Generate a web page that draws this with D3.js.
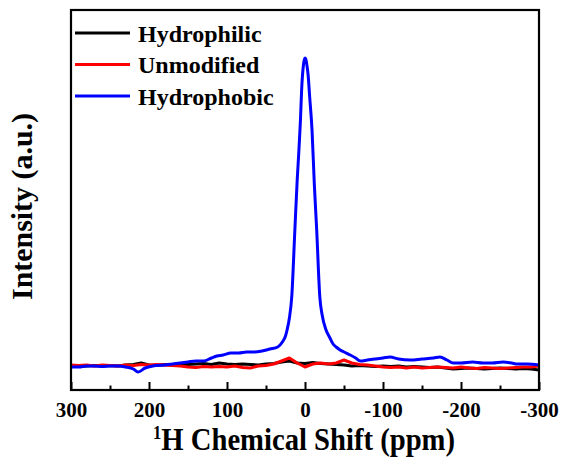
<!DOCTYPE html>
<html>
<head>
<meta charset="utf-8">
<script src="https://cdn.jsdelivr.net/npm/d3@7.9.0/dist/d3.min.js"></script>
<style>
  body { margin: 0; background: #fff; }
  svg text { font-family: "Liberation Serif", "Times New Roman", serif; font-weight: bold; fill: #000; }
</style>
</head>
<body>
<svg id="chart" width="561" height="461"></svg>
<script>
// shared ppm grid for the two flat baselines (300 -> -300, every 10 ppm)
const basePpm = d3.range(300, -301, -10);

const hydrophilic = [
  -1, -1.5, -1, -0.5, -1, -0.5, -1, 0, 0.5, 2,
  0, -0.5, 0.5, 0, 1, 0.5, 1, 1.5, 0.5, 2,
  1, 0.5, 1, 0.5, 0, 1, 1.5, 3, 4, 2,
  1.5, 2.5, 1.5, 1, 0.5, 0, -1, -0.5, -1, -1.5,
  -1, -1.5, -1, -2, -1.5, -2, -2.5, -2, -3, -4,
  -3.5, -3, -3.5, -4, -3.5, -3, -3.5, -4, -3.5, -4, -5
];

const unmodified = [
  0, -0.5, 0, -1, 0, -0.5, -1, 0, -0.5, 0.5,
  0, 0.5, 0, -0.5, -1, -2, -2.5, -1.5, -2, -1.5,
  -2, -1, -2.5, -3, -1, -0.5, 1, 4, 7, 2,
  -2, 1, 2, 1, 2, 5, 2, 0.5, 0, -1,
  -2, -2.5, -2, -3, -2, -3, -2.5, -2, -2.5, -3,
  -2, -3, -3.5, -2.5, -3, -3.5, -3, -2.5, -2, -2, -1
];

// hydrophobic sample needs a finer grid near the peak
const phobicPpm = [
  300, 290, 280, 270, 260, 250, 240, 230, 220, 214,
  205, 195, 180, 170, 160, 150, 140, 130, 120, 113,
  105, 95, 85, 75, 65, 55, 45, 35, 29, 25,
  23, 20, 17, 13, 10, 8, 6, 4, 2, 1, 0, -1,
  -2, -4, -6, -9, -12, -15, -19, -22, -27, -32,
  -36, -40, -45, -50, -58, -65, -71, -80, -90, -100,
  -109, -120, -135, -150, -165, -173, -182, -190, -200, -215,
  -228, -240, -254, -265, -272, -285, -300
];
const hydrophobic = [
  -2, -2, -1, -1, -1.5, -1, -1, -2, -4, -7,
  -3, -1, 0, 1, 2, 3, 4, 4, 7, 9,
  10, 12, 12, 13, 13, 14, 16, 18, 23, 29,
  35, 47, 68, 135, 185, 212, 242, 280, 300, 305, 307, 306,
  302, 290, 268, 235, 180, 135, 68, 50, 35, 27,
  21, 18, 15, 13, 10, 7, 4, 5, 6, 7,
  8, 6, 5, 6, 7, 8, 5, 2, 2, 3,
  2, 2, 3, 2, 1, 1, 0
];

const series = [
  { name: 'Hydrophilic', color: '#000000', ppm: basePpm, values: hydrophilic, curve: d3.curveLinear },
  { name: 'Unmodified', color: '#ff0000', ppm: basePpm, values: unmodified, curve: d3.curveLinear },
  { name: 'Hydrophobic', color: '#0000ff', ppm: phobicPpm, values: hydrophobic, curve: d3.curveMonotoneX }
];

const majorTicks = [300, 200, 100, 0, -100, -200, -300];
const minorTicks = [250, 150, 50, -50, -150, -250];

const svg = d3.select('#chart');
const plotLeft = 71, plotRight = 539, plotTop = 10, plotBottom = 390;

const x = d3.scaleLinear().domain([300, -300]).range([plotLeft, plotRight]);
const y = d3.scaleLinear().domain([-25, 355]).range([plotBottom, plotTop]);

const plot = svg.append('g');
plot.append('defs').append('clipPath').attr('id', 'clip')
  .append('rect').attr('x', plotLeft).attr('y', plotTop)
  .attr('width', plotRight - plotLeft).attr('height', plotBottom - plotTop);

series.forEach((s) => {
  const line = d3.line()
    .x((d) => x(d[0]))
    .y((d) => y(d[1]))
    .curve(s.curve);
  plot.append('path')
    .attr('d', line(s.ppm.map((p, i) => [p, s.values[i]])))
    .attr('fill', 'none')
    .attr('stroke', s.color)
    .attr('stroke-width', 3)
    .attr('stroke-linejoin', 'round')
    .attr('clip-path', 'url(#clip)');
});

// bottom axis: ticks point inward, plain hyphen for negatives
const xAxis = d3.axisBottom(x).tickValues(majorTicks).tickSize(-8).tickPadding(12)
  .tickFormat((d) => String(d));
const gx = svg.append('g').attr('transform', `translate(0,${plotBottom})`).call(xAxis);
gx.select('.domain').remove();
gx.selectAll('.tick line').attr('stroke', '#000').attr('stroke-width', 2);
gx.selectAll('.tick text').style('font-size', '21px').attr('dy', '0.71em');

svg.append('g').attr('transform', `translate(0,${plotBottom})`)
  .call(d3.axisBottom(x).tickValues(minorTicks).tickSize(-4.5).tickFormat(''))
  .call((g) => g.select('.domain').remove())
  .selectAll('.tick line').attr('stroke', '#000').attr('stroke-width', 2);

// frame
svg.append('rect')
  .attr('x', plotLeft).attr('y', plotTop)
  .attr('width', plotRight - plotLeft).attr('height', plotBottom - plotTop)
  .attr('fill', 'none').attr('stroke', '#000').attr('stroke-width', 2.2);

// legend
const legend = svg.append('g');
series.forEach((s, i) => {
  const ly = 33 + i * 31.5;
  legend.append('line')
    .attr('x1', 75).attr('x2', 130).attr('y1', ly).attr('y2', ly)
    .attr('stroke', s.color).attr('stroke-width', 2.8);
  legend.append('text')
    .attr('x', 138).attr('y', ly + 8.5)
    .style('font-size', '24px')
    .text(s.name);
});

// axis titles
const xt = svg.append('text')
  .attr('x', 153).attr('y', 450)
  .style('font-size', '31px')
  .attr('textLength', 302).attr('lengthAdjust', 'spacingAndGlyphs');
xt.append('tspan').attr('dy', '-11').style('font-size', '18px').text('1');
xt.append('tspan').attr('dy', '11').text('H Chemical Shift (ppm)');

svg.append('text')
  .attr('transform', 'translate(32,300) rotate(-90)')
  .style('font-size', '29px')
  .attr('textLength', 187).attr('lengthAdjust', 'spacingAndGlyphs')
  .text('Intensity (a.u.)');
</script>
</body>
</html>
